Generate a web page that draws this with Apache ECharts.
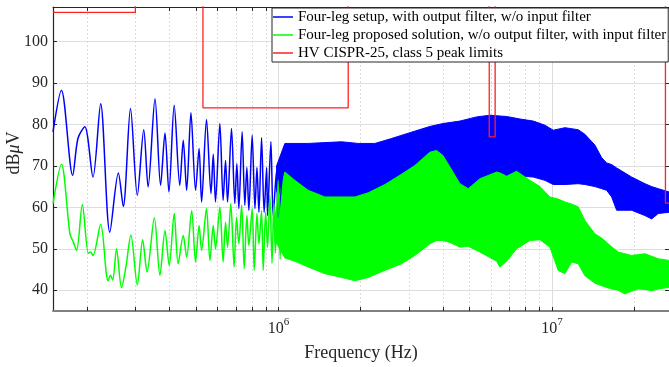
<!DOCTYPE html>
<html>
<head>
<meta charset="utf-8">
<script src="https://cdn.jsdelivr.net/npm/echarts@6/dist/echarts.min.js"></script>
<style>
  html, body { margin: 0; padding: 0; background: #fff; }
  #chart { width: 669px; height: 367px; }
</style>
</head>
<body>
<div id="chart"></div>
<script>
// frequencies in MHz, levels in dBuV

// four-leg, output filter, no input filter: resolved ripples below ~1 MHz
const blueF = [0.150, 0.161, 0.177, 0.185, 0.196, 0.210, 0.224, 0.242, 0.260, 0.271, 0.288, 0.305, 0.322, 0.334,
  0.354, 0.371, 0.385, 0.398, 0.416, 0.436, 0.449, 0.462, 0.479, 0.498, 0.513, 0.524, 0.546, 0.567, 0.578, 0.589,
  0.611, 0.628, 0.641, 0.652, 0.674, 0.693, 0.705, 0.717, 0.737, 0.754, 0.767, 0.780, 0.802, 0.821, 0.835, 0.849,
  0.868, 0.887, 0.906, 0.913, 0.939, 0.957, 0.985, 0.998, 1.050];
const blueV = [78.2, 88.2, 67.7, 76.6, 79.4, 67.3, 85.0, 54.0, 68.3, 60.2, 83.8, 62.9, 78.7, 64.9,
  86.2, 65.3, 77.9, 63.7, 84.6, 65.3, 76.2, 64.1, 82.8, 64.1, 74.2, 61.3, 81.2, 63.3, 72.8, 61.3,
  80.2, 61.7, 71.3, 61.3, 79.0, 60.9, 70.5, 59.7, 78.2, 60.5, 69.6, 59.3, 77.4, 59.7, 69.6, 58.8,
  76.8, 58.8, 69.6, 58.0, 75.8, 58.0, 68.9, 57.6, 74.5];

// same trace above ~1 MHz, where it is a solid band (upper / lower envelope)
const blueBandF = [0.985, 1.056, 1.149, 1.285, 1.479, 1.702, 1.958, 2.253, 2.594, 3.026, 3.580, 3.996, 4.610,
  5.305, 5.933, 6.830, 7.638, 8.544, 9.428, 10.11, 11.16, 12.48, 13.20, 14.36, 15.19, 15.85, 16.53, 17.24,
  19.56, 21.88, 23.15, 24.47, 26.79];
const blueHi = [70.0, 75.4, 75.4, 75.4, 75.6, 75.8, 75.4, 75.4, 76.6, 78.0, 79.5, 80.2, 80.8,
  81.8, 82.2, 81.9, 81.3, 80.8, 79.8, 78.6, 79.2, 78.7, 77.6, 75.0, 72.0, 70.7, 70.3, 69.5,
  67.3, 65.7, 65.0, 64.5, 63.7];
const blueLo = [64.0, 58.5, 59.0, 59.5, 60.0, 60.5, 61.0, 62.0, 63.0, 63.5, 63.5, 63.5, 63.5,
  64.0, 64.5, 66.0, 67.5, 67.3, 66.5, 65.5, 65.5, 65.7, 65.5, 65.0, 64.5, 64.1, 62.5, 59.3,
  59.3, 58.0, 57.2, 58.5, 58.8];

// four-leg proposed solution, input filter
const greenF = [0.150, 0.161, 0.173, 0.178, 0.183, 0.192, 0.202, 0.206, 0.210, 0.224, 0.235, 0.2385, 0.243, 0.248,
  0.256, 0.267, 0.277, 0.289, 0.305, 0.319, 0.331, 0.352, 0.369, 0.385, 0.399, 0.416, 0.430, 0.449, 0.462,
  0.482, 0.498, 0.513, 0.524, 0.546, 0.562, 0.578, 0.589, 0.611, 0.628, 0.641, 0.652, 0.670, 0.689, 0.703,
  0.717, 0.734, 0.750, 0.767, 0.780, 0.802, 0.816, 0.835, 0.849, 0.868, 0.880, 0.898, 0.913, 0.931, 0.948,
  0.962, 0.975, 0.998, 1.015, 1.032, 1.050];
const greenV = [60.9, 70.4, 53.6, 51.6, 49.6, 60.7, 48.9, 49.2, 48.4, 55.9, 44.0, 42.3, 43.6, 42.5,
  50.0, 40.6, 45.6, 53.3, 41.3, 52.2, 44.4, 57.5, 43.6, 54.4, 46.0, 58.5, 46.4, 53.2, 48.0,
  59.2, 46.8, 55.6, 49.6, 59.7, 47.2, 55.6, 50.0, 60.1, 46.8, 56.4, 50.4, 60.9, 45.6, 57.6,
  51.2, 60.5, 45.2, 58.0, 50.8, 59.7, 44.8, 58.5, 51.2, 59.2, 44.8, 58.8, 50.4, 62.9, 46.5,
  61.0, 49.0, 66.5, 47.5, 63.0, 48.4];

const greenBandF = [0.971, 1.056, 1.149, 1.285, 1.479, 1.702, 1.905, 2.130, 2.452, 2.821, 3.156, 3.580, 3.788,
  3.996, 4.238, 4.610, 4.943, 5.455, 6.280, 6.455, 6.830, 7.429, 8.311, 9.041, 9.833, 10.54, 11.16, 11.80,
  12.48, 13.20, 14.36, 15.19, 16.53, 17.47, 18.49, 19.56, 20.69, 21.88, 23.15, 24.47, 26.79];
const greenHi = [58.0, 68.5, 66.5, 64.1, 62.5, 62.5, 62.5, 63.5, 65.5, 68.0, 70.1, 73.3, 73.7,
  72.5, 69.7, 65.7, 64.5, 66.9, 68.5, 68.3, 67.5, 68.7, 66.5, 65.0, 62.5, 62.0, 61.3, 60.8,
  60.1, 56.8, 53.6, 52.6, 50.5, 49.2, 48.8, 48.4, 48.6, 48.8, 48.2, 47.6, 47.2];
const greenLo = [52.0, 47.8, 47.0, 45.6, 44.0, 43.1, 42.3, 43.1, 44.8, 46.4, 48.4, 51.2, 52.0,
  52.0, 51.5, 50.4, 50.6, 49.2, 47.0, 45.6, 47.0, 50.0, 52.0, 52.2, 50.4, 44.8, 44.0, 46.8,
  46.4, 43.5, 41.7, 41.1, 40.3, 40.0, 39.1, 39.8, 40.3, 40.2, 39.9, 40.3, 40.7];

// HV CISPR-25 class 5 peak limits (values above the top are clipped)
const limF = [0.15, 0.3, 0.3, 0.53, 0.53, 1.8, 1.8, 5.9, 5.9, 6.2, 6.2, 26, 26, 28];
const limV = [107, 107, 130, 130, 84, 84, 130, 130, 77, 77, 130, 130, 61, 61];

const xTicks = [2e5, 3e5, 4e5, 5e5, 6e5, 7e5, 8e5, 9e5, 1e6, 2e6, 3e6, 4e6, 5e6, 6e6, 7e6, 8e6, 9e6, 1e7, 2e7];
const xMajor = [1e6, 1e7];
const xMinor = [2e5, 3e5, 4e5, 5e5, 6e5, 7e5, 8e5, 9e5, 2e6, 3e6, 4e6, 5e6, 6e6, 7e6, 8e6, 9e6, 2e7];
const yTicks = [40, 50, 60, 70, 80, 90, 100];

const names = [
  'Four-leg setup, with output filter, w/o input filter',
  'Four-leg proposed solution, w/o output filter, with input filter',
  'HV CISPR-25, class 5 peak limits'
];

const SERIF = '"Liberation Serif", "Times New Roman", serif';
const AX = '#262626';
const X_MIN = 1.5e5, X_MAX = 26.79e6, Y_MIN = 35, Y_MAX = 108.3;

const pairs = (f, v) => f.map((x, i) => [x * 1e6, v[i]]);

function band(name, f, hi, lo, color) {
  return {
    name: name,
    type: 'custom',
    silent: true,
    clip: true,
    z: 2,
    data: [[f[0] * 1e6, lo[0]]],
    renderItem: (params, api) => {
      const pts = [];
      for (let i = 0; i < f.length; i++) pts.push(api.coord([f[i] * 1e6, hi[i]]));
      for (let i = f.length - 1; i >= 0; i--) pts.push(api.coord([f[i] * 1e6, lo[i]]));
      return {
        type: 'polygon',
        shape: { points: pts },
        style: { fill: color, stroke: color, lineWidth: 1 }
      };
    }
  };
}

function trace(name, data, color, z) {
  return {
    name: name,
    type: 'line',
    data: data,
    symbol: 'none',
    smooth: 0.3,
    z: z,
    lineStyle: { color: color, width: 1.5 },
    itemStyle: { color: color }
  };
}

const gridLines = {
  name: 'grid',
  type: 'line',
  data: [[1e6, 0]],
  symbol: 'none',
  z: 0,
  silent: true,
  lineStyle: { opacity: 0 },
  markLine: {
    z: 0,
    silent: true,
    symbol: 'none',
    label: { show: false },
    animation: false,
    data: [
      ...xMinor.map(v => ({ xAxis: v, lineStyle: { color: '#dcdcdc', type: [2, 2], width: 1 } })),
      ...xMajor.map(v => ({ xAxis: v, lineStyle: { color: '#dedede', type: 'solid', width: 1 } })),
      ...yTicks.map(v => ({ yAxis: v, lineStyle: { color: '#dedede', type: 'solid', width: 1.2 } }))
    ]
  }
};

const chart = echarts.init(document.getElementById('chart'));
chart.setOption({
  animation: false,
  backgroundColor: '#fff',
  grid: { left: 53, right: 0, top: 7, bottom: 56, containLabel: false, outerBoundsMode: 'none' },
  legend: {
    data: names.map(n => ({ name: n })),
    orient: 'vertical',
    left: 272,
    top: 8,
    padding: [0, 2, 0, 1],
    itemGap: 0,
    itemWidth: 20,
    itemHeight: 1.5,
    icon: 'rect',
    selectedMode: false,
    backgroundColor: '#fff',
    borderColor: AX,
    borderWidth: 1,
    borderRadius: 0,
    z: 10,
    textStyle: { fontFamily: SERIF, fontSize: 15, color: '#000', lineHeight: 18 }
  },
  xAxis: [
    {
      type: 'log', min: X_MIN, max: X_MAX, position: 'bottom',
      axisLine: { show: true, onZero: false, lineStyle: { color: '#808080', width: 2 } },
      axisTick: { show: true, inside: true, length: 4, customValues: xTicks, lineStyle: { color: AX } },
      axisLabel: {
        customValues: xMajor,
        margin: 6,
        formatter: v => '{b|10}{s|' + Math.round(Math.log10(v)) + '}',
        rich: {
          b: { fontFamily: SERIF, fontSize: 16, color: AX, verticalAlign: 'bottom', lineHeight: 20 },
          s: { fontFamily: SERIF, fontSize: 11, color: AX, verticalAlign: 'top', lineHeight: 20 }
        }
      },
      splitLine: { show: false },
      name: 'Frequency (Hz)',
      nameLocation: 'middle',
      nameGap: 33,
      nameMoveOverlap: false,
      nameTextStyle: { fontFamily: SERIF, fontSize: 18, color: AX }
    },
    {
      type: 'log', min: X_MIN, max: X_MAX, position: 'top',
      axisLine: { show: true, onZero: false, lineStyle: { color: AX, width: 1 } },
      axisTick: { show: true, inside: true, length: 4, customValues: xTicks, lineStyle: { color: AX } },
      axisLabel: { show: false },
      splitLine: { show: false }
    }
  ],
  yAxis: [
    {
      type: 'value', min: Y_MIN, max: Y_MAX, position: 'left',
      axisLine: { show: true, lineStyle: { color: AX, width: 1.2 } },
      axisTick: { show: true, inside: true, length: 4, customValues: yTicks, lineStyle: { color: AX } },
      axisLabel: { customValues: yTicks, fontFamily: SERIF, fontSize: 16, color: AX, margin: 5 },
      splitLine: { show: false },
      name: '{a|dB}{m|μ}{a|V}',
      nameLocation: 'middle',
      nameGap: 30,
      nameMoveOverlap: false,
      nameTextStyle: {
        padding: [0, 0, 0, 12],
        rich: {
          a: { fontFamily: SERIF, fontSize: 18, color: AX },
          m: { fontFamily: SERIF, fontSize: 18, color: AX, fontStyle: 'italic' }
        }
      }
    },
    {
      type: 'value', min: Y_MIN, max: Y_MAX, position: 'right',
      axisLine: { show: true, lineStyle: { color: AX, width: 1 } },
      axisTick: { show: true, inside: true, length: 4, customValues: yTicks, lineStyle: { color: AX } },
      axisLabel: { show: false },
      splitLine: { show: false }
    }
  ],
  series: [
    gridLines,
    trace(names[0], pairs(blueF, blueV), '#0000ff', 2),
    band('blue band', blueBandF, blueHi, blueLo, '#0000ff'),
    trace(names[1], pairs(greenF, greenV), '#00ff00', 2),
    band('green band', greenBandF, greenHi, greenLo, '#00ff00'),
    {
      name: names[2],
      type: 'line',
      data: pairs(limF, limV),
      symbol: 'none',
      z: 3,
      lineStyle: { color: '#ff2020', width: 1.3 },
      itemStyle: { color: '#ff2020' }
    }
  ]
});
</script>
</body>
</html>
